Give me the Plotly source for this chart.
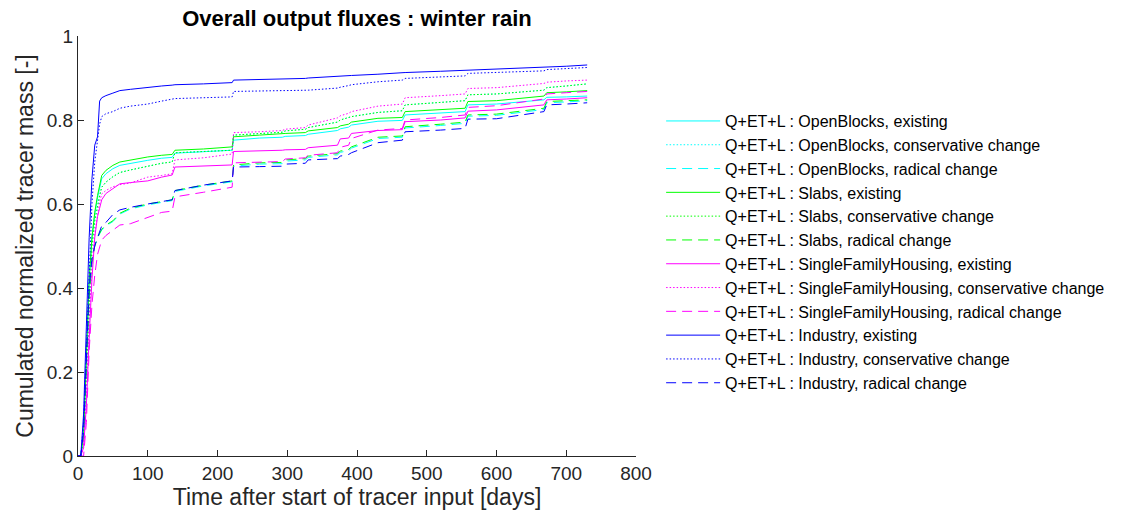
import plotly.graph_objects as go

# Time after start of tracer input [days]
days = [0, 4, 8, 12, 16, 20, 24, 28, 31, 34, 40, 50, 60, 75, 100, 120, 135, 139,
        180, 221, 223, 260, 293, 297, 326, 330, 372, 376, 388, 392, 430, 465, 469,
        520, 555, 559, 600, 668, 672, 700, 730]

# Cumulated normalized tracer mass, Q+ET+L
openblocks_existing = [0, 0, 0.05, 0.22, 0.42, 0.52, 0.575, 0.615, 0.64, 0.660, 0.672, 0.684, 0.692,
                       0.697, 0.704, 0.709, 0.711, 0.721, 0.724, 0.728, 0.752, 0.757, 0.759, 0.761,
                       0.763, 0.766, 0.775, 0.779, 0.783, 0.788, 0.797, 0.799, 0.812, 0.816, 0.820,
                       0.836, 0.838, 0.848, 0.854, 0.855, 0.857]
openblocks_conservative = [0, 0, 0.04, 0.20, 0.38, 0.50, 0.56, 0.60, 0.62, 0.640, 0.652, 0.665, 0.675,
                           0.681, 0.690, 0.697, 0.700, 0.722, 0.725, 0.728, 0.764, 0.768, 0.771, 0.774,
                           0.778, 0.782, 0.795, 0.800, 0.805, 0.808, 0.818, 0.822, 0.836, 0.842, 0.846,
                           0.860, 0.862, 0.871, 0.877, 0.881, 0.886]
openblocks_radical = [0, 0, 0.05, 0.20, 0.38, 0.46, 0.50, 0.52, 0.53, 0.538, 0.548, 0.558, 0.576,
                      0.588, 0.598, 0.604, 0.608, 0.630, 0.643, 0.653, 0.690, 0.695, 0.696, 0.702,
                      0.705, 0.711, 0.717, 0.723, 0.727, 0.733, 0.756, 0.759, 0.781, 0.787, 0.792,
                      0.809, 0.811, 0.825, 0.841, 0.843, 0.846]
slabs_existing = [0, 0, 0.05, 0.22, 0.42, 0.52, 0.58, 0.62, 0.645, 0.668, 0.680, 0.692, 0.700,
                  0.705, 0.712, 0.716, 0.718, 0.728, 0.731, 0.736, 0.760, 0.764, 0.766, 0.768,
                  0.770, 0.774, 0.782, 0.786, 0.790, 0.795, 0.804, 0.806, 0.820, 0.824, 0.828,
                  0.844, 0.846, 0.857, 0.865, 0.867, 0.870]
slabs_conservative = [0, 0, 0.04, 0.20, 0.38, 0.50, 0.56, 0.60, 0.62, 0.640, 0.652, 0.665, 0.675,
                      0.681, 0.690, 0.697, 0.700, 0.722, 0.725, 0.728, 0.764, 0.768, 0.771, 0.774,
                      0.778, 0.782, 0.795, 0.800, 0.805, 0.808, 0.818, 0.822, 0.836, 0.842, 0.846,
                      0.860, 0.862, 0.871, 0.877, 0.881, 0.886]
slabs_radical = [0, 0, 0.05, 0.20, 0.38, 0.46, 0.50, 0.52, 0.53, 0.540, 0.550, 0.560, 0.578,
                 0.590, 0.600, 0.606, 0.610, 0.632, 0.645, 0.655, 0.693, 0.698, 0.699, 0.705,
                 0.708, 0.714, 0.720, 0.726, 0.730, 0.736, 0.759, 0.762, 0.784, 0.790, 0.795,
                 0.812, 0.814, 0.828, 0.844, 0.846, 0.848]
sfh_existing = [0, 0, 0.02, 0.12, 0.28, 0.42, 0.52, 0.57, 0.59, 0.610, 0.625, 0.637, 0.648,
                0.651, 0.655, 0.664, 0.669, 0.688, 0.690, 0.693, 0.725, 0.726, 0.728, 0.729,
                0.730, 0.734, 0.740, 0.755, 0.757, 0.768, 0.775, 0.777, 0.796, 0.800, 0.805,
                0.821, 0.824, 0.836, 0.848, 0.850, 0.853]
sfh_conservative = [0, 0, 0.02, 0.14, 0.32, 0.45, 0.53, 0.58, 0.605, 0.624, 0.632, 0.641, 0.646,
                    0.650, 0.664, 0.668, 0.672, 0.705, 0.710, 0.719, 0.770, 0.772, 0.775, 0.778,
                    0.782, 0.788, 0.805, 0.810, 0.816, 0.820, 0.833, 0.838, 0.853, 0.858, 0.862,
                    0.875, 0.877, 0.887, 0.890, 0.893, 0.895]
sfh_radical = [0, 0, 0.0, 0.08, 0.25, 0.36, 0.43, 0.48, 0.50, 0.514, 0.525, 0.538, 0.550,
               0.553, 0.568, 0.580, 0.583, 0.617, 0.628, 0.640, 0.698, 0.699, 0.701, 0.707,
               0.710, 0.716, 0.722, 0.735, 0.740, 0.756, 0.776, 0.780, 0.800, 0.806, 0.812,
               0.830, 0.834, 0.850, 0.862, 0.865, 0.868]
industry_existing = [0, 0, 0.10, 0.30, 0.52, 0.66, 0.74, 0.76, 0.845, 0.853, 0.858, 0.864, 0.870,
                     0.873, 0.878, 0.881, 0.883, 0.884, 0.886, 0.889, 0.895, 0.896, 0.897, 0.898,
                     0.899, 0.900, 0.903, 0.904, 0.905, 0.906, 0.909, 0.911, 0.913, 0.916, 0.918,
                     0.920, 0.921, 0.925, 0.926, 0.928, 0.931]
industry_conservative = [0, 0, 0.08, 0.25, 0.45, 0.60, 0.70, 0.75, 0.79, 0.808, 0.815, 0.820, 0.828,
                         0.833, 0.838, 0.845, 0.850, 0.851, 0.853, 0.855, 0.868, 0.870, 0.870, 0.870,
                         0.870, 0.871, 0.876, 0.878, 0.882, 0.884, 0.891, 0.895, 0.899, 0.903, 0.905,
                         0.911, 0.913, 0.917, 0.920, 0.922, 0.925]
industry_radical = [0, 0, 0.06, 0.22, 0.40, 0.47, 0.50, 0.52, 0.535, 0.548, 0.556, 0.575, 0.586,
                    0.592, 0.600, 0.606, 0.610, 0.632, 0.645, 0.655, 0.688, 0.689, 0.690, 0.695,
                    0.697, 0.705, 0.708, 0.714, 0.718, 0.722, 0.746, 0.752, 0.772, 0.776, 0.780,
                    0.802, 0.803, 0.820, 0.836, 0.838, 0.841]

x_ticks = [0, 100, 200, 300, 400, 500, 600, 700, 800]
y_ticks = [0, 0.2, 0.4, 0.6, 0.8, 1]
y_tick_labels = ["0", "0.2", "0.4", "0.6", "0.8", "1"]

DOT = "1.5px,2px"
DASH = "10px,6px"
series = [
    ("Q+ET+L : OpenBlocks, existing", openblocks_existing, "#00FFFF", "solid"),
    ("Q+ET+L : OpenBlocks, conservative change", openblocks_conservative, "#00FFFF", DOT),
    ("Q+ET+L : OpenBlocks, radical change", openblocks_radical, "#00FFFF", DASH),
    ("Q+ET+L : Slabs, existing", slabs_existing, "#00FF00", "solid"),
    ("Q+ET+L : Slabs, conservative change", slabs_conservative, "#00FF00", DOT),
    ("Q+ET+L : Slabs, radical change", slabs_radical, "#00FF00", DASH),
    ("Q+ET+L : SingleFamilyHousing, existing", sfh_existing, "#FF00FF", "solid"),
    ("Q+ET+L : SingleFamilyHousing, conservative change", sfh_conservative, "#FF00FF", DOT),
    ("Q+ET+L : SingleFamilyHousing, radical change", sfh_radical, "#FF00FF", DASH),
    ("Q+ET+L : Industry, existing", industry_existing, "#0000FF", "solid"),
    ("Q+ET+L : Industry, conservative change", industry_conservative, "#0000FF", DOT),
    ("Q+ET+L : Industry, radical change", industry_radical, "#0000FF", DASH),
]

fig = go.Figure()
for name, vals, color, dash in series:
    fig.add_trace(go.Scatter(x=days, y=vals, mode="lines", name=name,
                             line=dict(color=color, width=1, dash=dash)))

FONT = "Arial, Liberation Sans, sans-serif"
AX = "#262626"
fig.update_layout(
    width=1126, height=515,
    margin=dict(l=78, r=490, t=36, b=59),
    paper_bgcolor="white", plot_bgcolor="white",
    font=dict(family=FONT, color=AX),
    title=dict(text="<b>Overall output fluxes : winter rain</b>", x=0.317, xanchor="center",
               y=0.965, yanchor="middle", font=dict(size=22, color="black", family=FONT)),
    showlegend=True,
    legend=dict(x=1.045, y=0.838, xanchor="left", yanchor="top",
                font=dict(size=16, color="black", family=FONT),
                bgcolor="rgba(0,0,0,0)", borderwidth=0, itemwidth=54,
                tracegroupgap=0),
)
fig.update_xaxes(range=[0, 800], tickvals=x_ticks, ticks="inside", ticklen=6,
                 tickcolor=AX, showline=True, linecolor=AX, linewidth=1, showgrid=False,
                 zeroline=False, tickfont=dict(size=19, color=AX),
                 title=dict(text="Time after start of tracer input [days]",
                            font=dict(size=23, color=AX), standoff=2))
fig.update_yaxes(range=[0, 1], tickvals=y_ticks, ticktext=y_tick_labels, ticks="inside",
                 ticklen=6, tickcolor=AX, showline=True, linecolor=AX, linewidth=1,
                 showgrid=False, zeroline=False, tickfont=dict(size=19, color=AX),
                 title=dict(text="Cumulated normalized tracer mass [-]",
                            font=dict(size=23, color=AX), standoff=6))

fig.write_html("out.html")
